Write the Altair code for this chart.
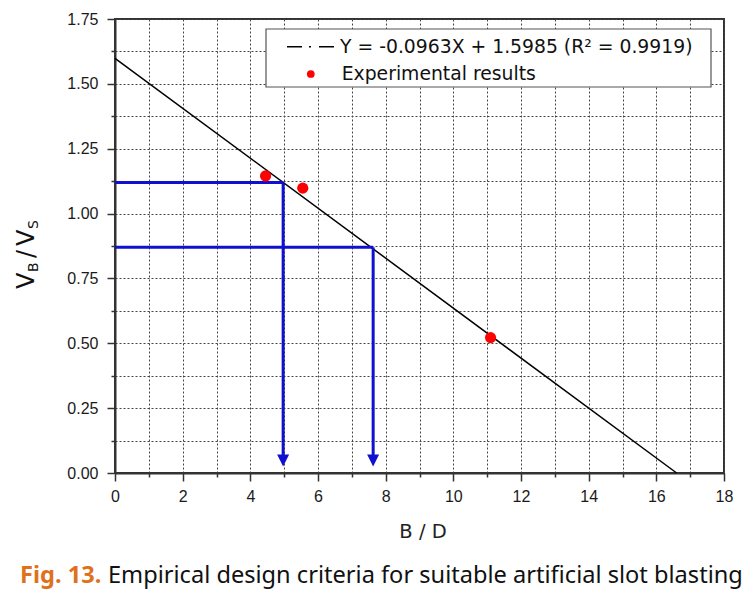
import altair as alt
import pandas as pd

# ---- data ----
exp_x = [4.45, 5.55, 11.1]
exp_y = [1.145, 1.098, 0.522]
fit_x = [0.0, 16.6]
fit_y = [1.5985, 0.0]
guide_x = [4.97, 7.63]
guide_y = [1.12, 0.87]
guide_end = [0.06, 0.06]
arrow_y = [0.048, 0.048]
x_ticks = list(range(0, 19))
y_ticks = [i * 0.125 for i in range(15)]

eq_label = "Y = -0.0963X + 1.5985 (R\u00b2 = 0.9919)"
exp_label = "Experimental results"
x_title = "B / D"
caption_fig = "Fig. 13."
caption_text = "Empirical design criteria for suitable artificial slot blasting"

FONT = "DejaVu Sans"
TICK_FONT = "Liberation Sans"
W, H = 609, 454

exp_df = pd.DataFrame({"x": exp_x, "y": exp_y})
fit_df = pd.DataFrame({"x": fit_x, "y": fit_y})
guide_df = pd.DataFrame({"gx": guide_x, "gy": guide_y, "gend": guide_end,
                         "ay": arrow_y, "x0": [0.0, 0.0]})

xscale = alt.Scale(domain=[0, 18], nice=False, zero=False)
yscale = alt.Scale(domain=[0, 1.75], nice=False, zero=False)

x_axis = alt.Axis(
    values=x_ticks, grid=True, gridDash=[2, 2], gridColor="#444", gridWidth=1,
    tickSize={"condition": {"test": "datum.value % 2 === 0", "value": 8}, "value": 4},
    tickColor="#333", tickWidth=1.5, domainColor="#333", domainWidth=2,
    labelExpr="datum.value % 2 === 0 ? datum.label : ''",
    labelFont=TICK_FONT, labelFontSize=16, labelColor="#1a1a1a", labelPadding=7,
    labelOverlap=False, labelFlush=False,
    title=x_title, titleFont=FONT, titleFontSize=19.5, titleFontWeight="normal",
    titleColor="#222", titleX=307.5, titleY=64, titleBaseline="alphabetic",
    titleAlign="center", titleAnchor="middle",
)
y_axis = alt.Axis(
    values=y_ticks, grid=True, gridDash=[2, 2], gridColor="#444", gridWidth=1,
    tickSize={"condition": {"test": "(datum.value * 4) % 1 === 0", "value": 8}, "value": 4},
    tickColor="#333", tickWidth=1.5, domainColor="#333", domainWidth=2,
    format=".2f", labelExpr="(datum.value * 4) % 1 === 0 ? datum.label : ''",
    labelFont=TICK_FONT, labelFontSize=16, labelColor="#1a1a1a", labelPadding=9,
    labelOverlap=False, labelFlush=False, title=None,
)


def X(f):
    return alt.X(f, type="quantitative", scale=xscale, axis=x_axis)


def Y(f):
    return alt.Y(f, type="quantitative", scale=yscale, axis=y_axis)


fit_line = alt.Chart(fit_df).mark_line(color="black", strokeWidth=1.5).encode(
    x=X("x"), y=Y("y"))

guide_h = alt.Chart(guide_df).mark_rule(color="#1010d0", strokeWidth=3).encode(
    x=X("x0"), x2="gx", y=Y("gy"))
guide_v = alt.Chart(guide_df).mark_rule(color="#1010d0", strokeWidth=3).encode(
    x=X("gx"), y=Y("gy"), y2="gend")
arrows = alt.Chart(guide_df).mark_point(
    shape="M-1,-1L1,-1L0,1Z", size=144, filled=True, fill="#1010d0",
    opacity=1, strokeWidth=0).encode(x=X("gx"), y=Y("ay"))

points = alt.Chart(exp_df).mark_circle(color="#ff0000", size=125, opacity=1).encode(
    x=X("x"), y=Y("y"))


def one(label):
    return alt.Data(values=[{"t": label}])


legend_box = alt.Chart(one("box")).mark_rect(
    fill="white", stroke="#555", strokeWidth=1.2).encode(
    x=alt.value(151), x2=alt.value(596), y=alt.value(10), y2=alt.value(68))
legend_line = alt.Chart(one("line")).mark_rule(
    color="black", strokeWidth=1.5, strokeDash=[15, 7, 2, 8]).encode(
    x=alt.value(172), x2=alt.value(220), y=alt.value(27.7))
legend_dot = alt.Chart(one("dot")).mark_circle(
    color="#ff0000", size=60, opacity=1).encode(x=alt.value(195.8), y=alt.value(55))


def txt(label, x, y, size, color="#111", font=FONT, weight="normal", angle=0,
        align="left"):
    return alt.Chart(one(label)).mark_text(
        align=align, baseline="alphabetic", font=font, fontSize=size,
        fontWeight=weight, color=color, angle=angle).encode(
        x=alt.value(x), y=alt.value(y), text="t:N")


legend_t1 = txt(eq_label, 225, 34.3, 18.8)
legend_t2 = txt(exp_label, 226.7, 61, 18.8)

# y-axis title V_B / V_S with subscripts (rotated)
yt = [
    txt("V", -81, 270, 24, angle=270),
    txt("B", -77, 253, 14, angle=270),
    txt("/", -81, 239, 24, angle=270),
    txt("V", -81, 227, 24, angle=270),
    txt("S", -77, 210, 14, angle=270),
]

cap1 = txt(caption_fig, -95, 564, 23.6, color="#E0711C", font="Noto Sans", weight="bold")
cap2 = txt(caption_text, -7, 564, 23.6, color="#111", font="Noto Sans")

chart = alt.layer(
    fit_line, guide_h, guide_v, arrows, points,
    legend_box, legend_line, legend_dot, legend_t1, legend_t2,
    *yt, cap1, cap2,
).properties(
    width=W, height=H,
    padding={"left": 107, "top": 11, "right": 18, "bottom": 116},
    autosize=alt.AutoSizeParams(type="none"),
    background="white",
).configure_view(stroke="#333", strokeWidth=2)

chart.save("out.html", embed_options={"renderer": "svg", "actions": False})
